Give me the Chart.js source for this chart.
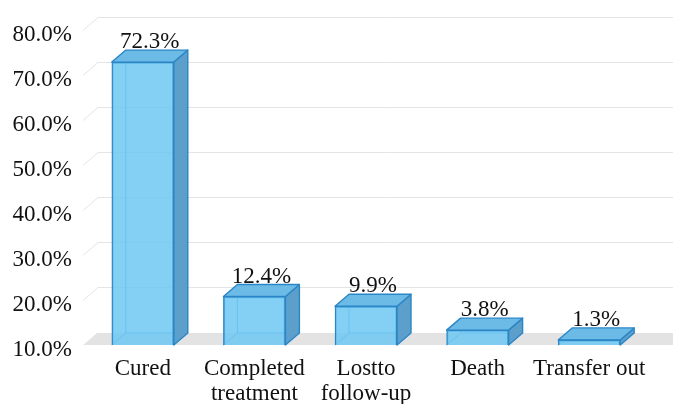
<!DOCTYPE html>
<html>
<head>
<meta charset="utf-8">
<script src="https://cdn.jsdelivr.net/npm/chart.js@4/dist/chart.umd.min.js"></script>
<style>
  html, body { margin: 0; padding: 0; background: #ffffff; }
  #c { display: block; }
</style>
</head>
<body>
<canvas id="c" width="673" height="404"></canvas>
<script>
// Treatment outcomes
const categories = [['Cured'], ['Completed', 'treatment'], ['Lostto', 'follow-up'], ['Death'], ['Transfer out']];
const outcomeShare = [72.3, 12.4, 9.9, 3.8, 1.3];
const tickLabels = ['10.0%', '20.0%', '30.0%', '40.0%', '50.0%', '60.0%', '70.0%', '80.0%'];
const axisStep = 11.5;

const FONT = '"Liberation Serif", "Times New Roman", serif';
const DX = 14, DY = 12;          // depth of the boxes and floor
const WALL_DX = 15, WALL_DY = 13; // depth of the gridline wall

const boxes3d = {
  id: 'boxes3d',
  beforeDatasetsDraw(chart) {
    const { ctx, chartArea: a, scales: { y } } = chart;
    const W = chart.width;
    const wallLeft = a.left - 4;
    ctx.save();

    // floor slab
    ctx.fillStyle = '#e3e3e3';
    ctx.beginPath();
    ctx.moveTo(wallLeft, a.bottom);
    ctx.lineTo(wallLeft + DX, a.bottom - DY);
    ctx.lineTo(W, a.bottom - DY);
    ctx.lineTo(W, a.bottom);
    ctx.closePath();
    ctx.fill();

    // gridlines: short slant on the side wall, then across the back wall
    ctx.strokeStyle = '#e4e4e4';
    ctx.lineWidth = 1;
    y.ticks.forEach((t, i) => {
      if (i === 0) return;
      const py = Math.round(y.getPixelForValue(t.value)) + 0.5;
      ctx.beginPath();
      ctx.moveTo(wallLeft, py);
      ctx.lineTo(wallLeft + WALL_DX, py - WALL_DY);
      ctx.lineTo(W, py - WALL_DY);
      ctx.stroke();
    });

    // hidden edges, side and top faces of each box
    const meta = chart.getDatasetMeta(0);
    meta.data.forEach(bar => {
      const p = bar.getProps(['x', 'y', 'base', 'width'], true);
      const l = p.x - p.width / 2, r = p.x + p.width / 2;
      const top = p.y, base = p.base;

      ctx.strokeStyle = 'rgba(45,145,215,0.85)';
      ctx.lineWidth = 1;
      ctx.beginPath();
      ctx.moveTo(l, base);
      ctx.lineTo(l + DX, base - DY);
      ctx.lineTo(r + DX, base - DY);
      ctx.moveTo(l + DX, base - DY);
      ctx.lineTo(l + DX, top - DY);
      ctx.stroke();

      ctx.strokeStyle = '#2b86c6';
      ctx.lineWidth = 1.4;
      ctx.lineJoin = 'round';

      // right side face
      ctx.fillStyle = '#5c9fcb';
      ctx.beginPath();
      ctx.moveTo(r, top);
      ctx.lineTo(r + DX, top - DY);
      ctx.lineTo(r + DX, base - DY);
      ctx.lineTo(r, base);
      ctx.closePath();
      ctx.fill();
      ctx.stroke();

      // top face
      ctx.fillStyle = '#6cbbe6';
      ctx.beginPath();
      ctx.moveTo(l, top);
      ctx.lineTo(l + DX, top - DY);
      ctx.lineTo(r + DX, top - DY);
      ctx.lineTo(r, top);
      ctx.closePath();
      ctx.fill();
      ctx.stroke();
    });
    ctx.restore();
  },
  afterDatasetsDraw(chart) {
    const { ctx } = chart;
    const meta = chart.getDatasetMeta(0);
    ctx.save();
    ctx.font = '23px ' + FONT;
    ctx.fillStyle = '#111111';
    ctx.textAlign = 'center';
    ctx.textBaseline = 'middle';
    meta.data.forEach((bar, i) => {
      const p = bar.getProps(['x', 'y'], true);
      ctx.fillText(outcomeShare[i].toFixed(1) + '%', p.x + DX / 2, p.y - DY - 8);
    });
    ctx.restore();
  }
};

new Chart(document.getElementById('c'), {
  type: 'bar',
  data: {
    labels: categories,
    datasets: [{
      data: outcomeShare,
      backgroundColor: 'rgba(110,200,243,0.85)',
      borderColor: '#2b86c6',
      borderWidth: 1.4,
      barThickness: 62
    }]
  },
  options: {
    responsive: false,
    animation: false,
    devicePixelRatio: 1,
    layout: { padding: { top: 30, right: 28, left: 0, bottom: 0 } },
    plugins: { legend: { display: false }, tooltip: { enabled: false } },
    scales: {
      x: {
        offset: true,
        grid: { display: false, drawTicks: false },
        border: { display: false },
        ticks: {
          color: '#111111',
          font: { family: FONT, size: 23, lineHeight: 1.08 },
          padding: 12,
          maxRotation: 0,
          autoSkip: false
        },
        afterFit(s) { s.height = 59; }
      },
      y: {
        min: 0,
        max: axisStep * (tickLabels.length - 1),
        grid: { display: false, drawTicks: false },
        border: { display: false },
        afterBuildTicks(s) {
          s.ticks = tickLabels.map((_, i) => ({ value: i * axisStep }));
        },
        ticks: {
          color: '#111111',
          font: { family: FONT, size: 23 },
          padding: 15,
          labelOffset: 5,
          callback: (v, i) => tickLabels[i]
        },
        afterFit(s) { s.width = 87; }
      }
    }
  },
  plugins: [boxes3d]
});
</script>
</body>
</html>
